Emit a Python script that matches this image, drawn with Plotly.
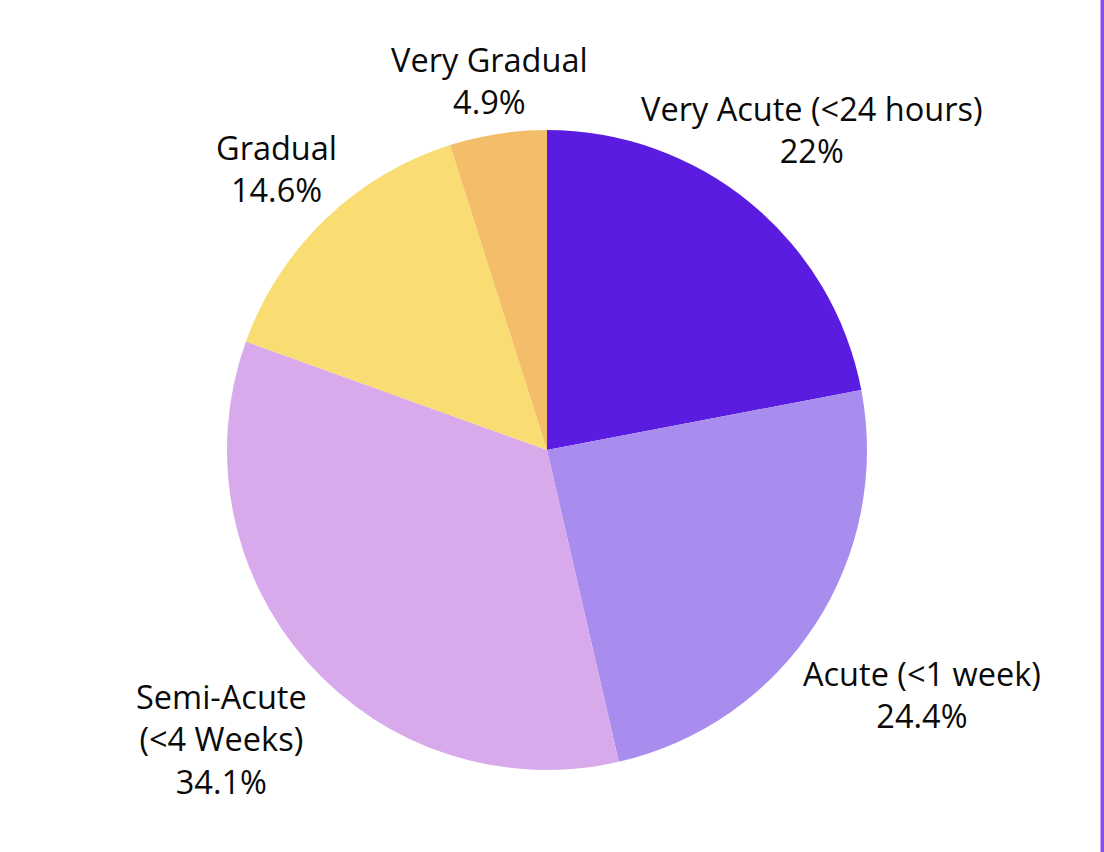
import math
import plotly.graph_objects as go

# onset categories and share of patients (%)
labels = ["Very Acute (&lt;24 hours)", "Acute (&lt;1 week)", "Semi-Acute<br>(&lt;4 Weeks)",
          "Gradual", "Very Gradual"]
values = [22, 24.4, 34.1, 14.6, 4.9]
colors = ["#5A1CE0", "#A98DEE", "#D9AAEB", "#F9DD72", "#F4BD6A"]

# how far out each label sits, in pie radii (label centre)
label_dist = [1.30, 1.40, 1.36, 1.22, 1.17]

fig = go.Figure(go.Pie(
    labels=labels,
    values=values,
    marker=dict(colors=colors, line=dict(width=0)),
    sort=False,
    direction="clockwise",
    rotation=0,
    textinfo="none",
    showlegend=False,
    hoverinfo="label+value",
))

# labels placed on each slice's bisector
total = sum(values)
cum = 0
for lab, val, d in zip(labels, values, label_dist):
    ang = 2 * math.pi * (cum + val / 2) / total
    cum += val
    fig.add_annotation(
        x=0.5 + 0.5 * d * math.sin(ang),
        y=0.5 + 0.5 * d * math.cos(ang),
        xref="paper", yref="paper",
        text=f"{lab}<br>{val:g}%",
        showarrow=False, align="center",
        xanchor="center", yanchor="middle",
        font=dict(size=32.5, color="#0a0a0a"),
    )

# purple divider at the right edge
fig.add_shape(type="line", xref="paper", yref="paper", layer="above",
              x0=1.368, x1=1.368, y0=-0.3, y1=1.3,
              line=dict(color="#8B4CEE", width=4))

fig.update_layout(
    width=1104, height=852,
    margin=dict(l=227, r=237, t=130, b=82),
    paper_bgcolor="white",
    font=dict(family="Open Sans", color="#0a0a0a"),
)

# drop the default page margin so the figure fills the window
fig.write_html("out.html", config={"displayModeBar": False},
               post_script="document.body.style.margin='0';")
